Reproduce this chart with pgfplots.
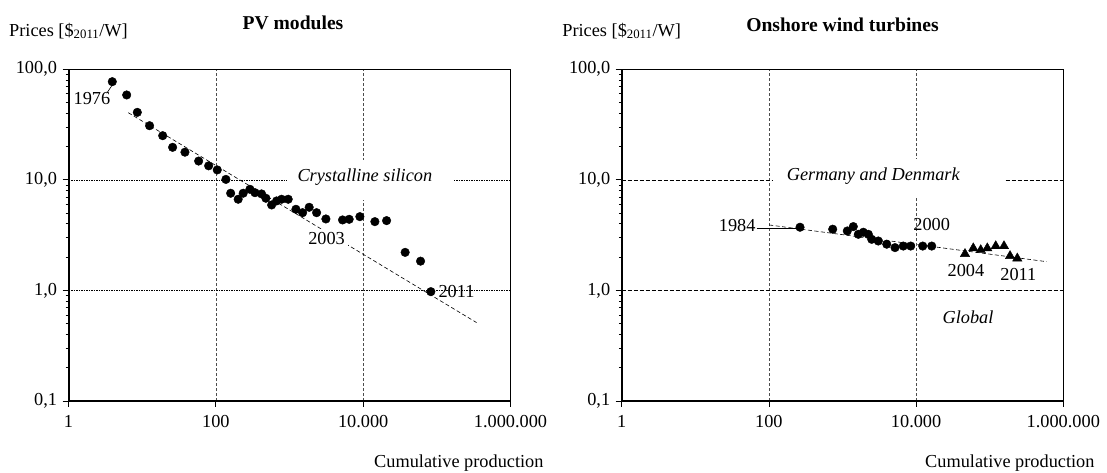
\documentclass[border=0pt]{standalone}
\usepackage{fontspec}
\setmainfont{Liberation Serif}
\usepackage{pgfplots}
\pgfplotsset{compat=1.18}
\newcommand\fs{\fontsize{18.3}{22}\selectfont}
\newcommand\ft{\fontsize{19.6}{23}\selectfont\bfseries}
\pgfplotsset{
 dots/.style={only marks, mark=*, mark size=4.3pt, black},
 tris/.style={only marks, mark=triangle*, mark size=5.4pt, black},
 trend/.style={black, line width=0.6pt, dash pattern=on 4pt off 2.5pt},
}
\begin{document}
\begin{tikzpicture}[font=\fs]
\path[use as bounding box] (0,0) rectangle (1107pt,472pt);
% ---------- PV modules ----------
\begin{axis}[
  scale only axis, width=442pt, height=331.7pt,
  at={(68.5pt,71pt)}, anchor=south west,
  xmode=log, ymode=log, xmin=1, xmax=1e6, ymin=0.1, ymax=100,
  xtick={1,100,10000,1000000}, xticklabels={1,100,10.000,1.000.000},
  ytick={0.1,1,10,100}, yticklabels={{0,1},{1,0},{10,0},{100,0}},
  minor xtick={}, minor ytick={},
  tick pos=left,
  tick align=outside, major tick length=6pt,
  tick style={black, line width=0.8pt},
  axis line style={line width=0.8pt},
  grid=major,
  tick label style={font=\fs},
  xticklabel style={yshift=-5pt},
  yticklabel style={xshift=-2pt},
  clip=false,
  major x grid style={black!70, line width=0.6pt, dash pattern=on 3pt off 2pt},
  major y grid style={black, line width=0.6pt, dash pattern=on 1.5pt off 1pt}]
\node[fill=white, minimum width=167pt, minimum height=40pt, inner sep=0pt] at (axis cs:12530,10) {};
\node[font=\fs\itshape] at (axis cs:10540,10.6) {Crystalline silicon};
\addplot[trend] coordinates {(6.48,40.5) (346000,0.512)};
\addplot[dots] coordinates {
(3.93,77.3) (6.16,58.6) (8.59,40.8) (12.6,30.9) (19.0,25.1) (25.9,19.7)
(38.1,17.8) (58.4,14.8) (79.9,13.4) (104.5,12.3) (137,10.1)
(159,7.57) (201,6.68) (235,7.57) (290,8.22) (340,7.66) (418,7.46)
(478,6.82) (572,5.93) (668,6.45) (781,6.68) (960,6.68) (1222,5.42)
(1507,5.05) (1850,5.65) (2332,5.05) (3119,4.43) (5248,4.34) (6457,4.40)
(9020,4.65) (14420,4.19) (20790,4.28) (37150,2.21) (60100,1.84) (82950,0.975)};
\addplot[black, line width=0.6pt] coordinates {(3.30,60.7) (3.93,72.1)};
\node at (axis cs:2.08,53.9) {1976};
\node[fill=white, inner sep=3pt] at (axis cs:3186,2.96) {2003};
\node at (axis cs:185000,0.975) {2011};
\draw[line width=2pt] (rel axis cs:0,1) -- (rel axis cs:0,0) -- (rel axis cs:1,0);
\end{axis}
% ---------- Onshore wind ----------
\begin{axis}[
  scale only axis, width=441.6pt, height=331.7pt,
  at={(621.7pt,71pt)}, anchor=south west,
  xmode=log, ymode=log, xmin=1, xmax=1e6, ymin=0.1, ymax=100,
  xtick={1,100,10000,1000000}, xticklabels={1,100,10.000,1.000.000},
  ytick={0.1,1,10,100}, yticklabels={{0,1},{1,0},{10,0},{100,0}},
  minor xtick={}, minor ytick={},
  tick pos=left,
  tick align=outside, major tick length=6pt,
  tick style={black, line width=0.8pt},
  axis line style={line width=0.8pt},
  grid=major,
  tick label style={font=\fs},
  xticklabel style={yshift=-5pt},
  yticklabel style={xshift=-2pt},
  clip=false,
  major x grid style={black!70, line width=0.6pt, dash pattern=on 3pt off 2pt},
  major y grid style={black, line width=0.6pt, dash pattern=on 4pt off 2pt}]
\node[fill=white, minimum width=232pt, minimum height=38pt, inner sep=0pt] at (axis cs:4285,10.3) {};
\node[font=\fs\itshape] at (axis cs:2620,10.7) {Germany and Denmark};
\node[font=\fs\itshape] at (axis cs:50800,0.573) {Global};
\addplot[trend] coordinates {(101,3.91) (595000,1.82)};
\addplot[black, line width=0.8pt] coordinates {(68.3,3.65) (264.7,3.65)};
\addplot[dots] coordinates {
(264.7,3.73) (736,3.58) (1161,3.45) (1402,3.78) (1640,3.22) (1918,3.36)
(2243,3.22) (2494,2.90) (3064,2.80) (3989,2.62) (5168,2.44) (6698,2.52)
(8445,2.52) (12300,2.52) (16300,2.52)};
\addplot[tris] coordinates {
(46150,2.14) (59800,2.41) (75500,2.32) (92700,2.41) (120700,2.52)
(156400,2.52) (188800,2.05) (237000,1.95)};
\node[anchor=east, inner sep=1pt] at (axis cs:68.3,3.83) {1984};
\node at (axis cs:16300,3.91) {2000};
\node at (axis cs:47600,1.53) {2004};
\node at (axis cs:245000,1.38) {2011};
\draw[line width=2pt] (rel axis cs:0,1) -- (rel axis cs:0,0) -- (rel axis cs:1,0);
\end{axis}
% ---------- titles and labels ----------
\node[font=\ft] at (293pt,449pt) {PV modules};
\node[font=\ft] at (842.5pt,447pt) {Onshore wind turbines};
\node at (68.5pt,441pt) {Prices [\$\textsubscript{2011}/W]};
\node at (621.7pt,441pt) {Prices [\$\textsubscript{2011}/W]};
\node[anchor=east] at (547pt,9pt) {Cumulative production};
\node[anchor=east] at (1098pt,9pt) {Cumulative production};
\end{tikzpicture}
\end{document}
